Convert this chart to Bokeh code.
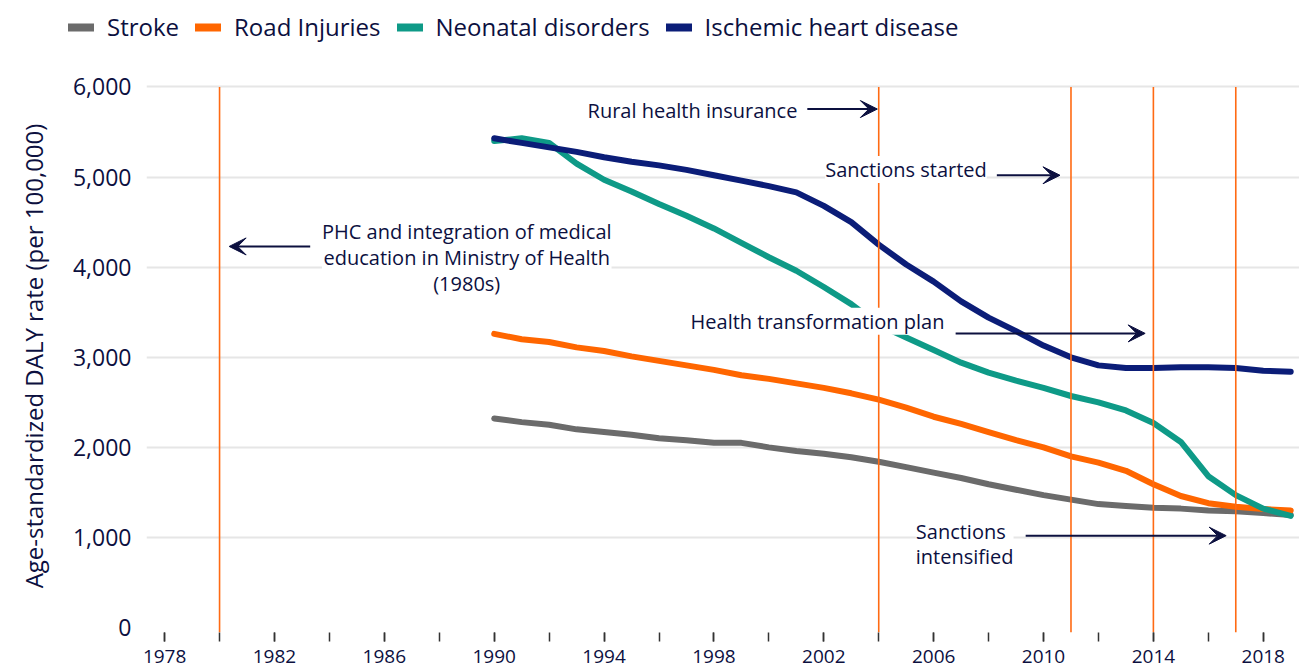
from bokeh.plotting import figure
from bokeh.layouts import column
from bokeh.models import (Range1d, FixedTicker, NumeralTickFormatter, Legend,
                          LegendItem, Label, Arrow, VeeHead)
from bokeh.embed import file_html
from bokeh.resources import INLINE

# ---------------- data ----------------
years = list(range(1990, 2020))
stroke = [2320, 2280, 2250, 2200, 2170, 2140, 2100, 2080, 2050, 2050,
          2000, 1960, 1930, 1890, 1840, 1780, 1720, 1660, 1590, 1530,
          1470, 1420, 1370, 1350, 1330, 1320, 1300, 1290, 1270, 1250]
road = [3260, 3200, 3170, 3110, 3070, 3010, 2960, 2910, 2860, 2800,
        2760, 2710, 2660, 2600, 2530, 2440, 2340, 2260, 2170, 2080,
        2000, 1900, 1830, 1740, 1590, 1460, 1380, 1340, 1315, 1300]
neonatal = [5400, 5430, 5380, 5150, 4970, 4840, 4700, 4570, 4430, 4270,
            4110, 3960, 3780, 3590, 3360, 3220, 3080, 2940, 2830, 2740,
            2660, 2570, 2500, 2410, 2270, 2060, 1680, 1470, 1320, 1240]
ischemic = [5430, 5380, 5330, 5280, 5220, 5170, 5130, 5080, 5020, 4960,
            4900, 4830, 4680, 4500, 4250, 4030, 3840, 3620, 3440, 3290,
            3130, 3000, 2910, 2880, 2880, 2890, 2890, 2880, 2850, 2840]
series_names = ["Stroke", "Road Injuries", "Neonatal disorders", "Ischemic heart disease"]
event_years = [1980, 2004, 2011, 2014, 2017]
x_tick_labels = list(range(1978, 2019, 4))
x_minor_ticks = list(range(1978, 2020, 2))
y_ticks = [0, 1000, 2000, 3000, 4000, 5000, 6000]
y_axis_title = "Age-standardized DALY rate (per 100,000)"

# ---------------- style ----------------
FONT = "Open Sans"
TEXT = "#0c103f"
COLORS = ["#6b6b6b", "#ff6600", "#0e9a87", "#0b1d78"]
EVENT_COLOR = "#ff6a13"
all_series = [stroke, road, neonatal, ischemic]

# ---------------- legend strip ----------------
# the series are drawn here too, but far outside this strip's view,
# so only their legend entries are visible
leg = figure(width=1299, height=60, output_backend="svg", toolbar_location=None,
             x_range=Range1d(0, 1), y_range=Range1d(0, 1),
             min_border_left=0, min_border_right=0, min_border_top=0,
             min_border_bottom=0)
leg.frame_align = False
leg.axis.visible = False
leg.grid.visible = False
leg.outline_line_color = None
leg_renderers = [leg.line(years, vals, line_width=8, line_color=c, line_cap="round")
                 for vals, c in zip(all_series, COLORS)]
legend = Legend(items=[LegendItem(label=n, renderers=[r]) for n, r in zip(series_names, leg_renderers)],
                orientation="horizontal", location=(68, 17),
                label_text_font=FONT, label_text_font_size="24px",
                label_text_color=TEXT, glyph_width=26, glyph_height=24,
                label_height=24, label_standoff=13, spacing=16, padding=0, margin=0,
                border_line_color=None, background_fill_alpha=0)
leg.add_layout(legend)

# ---------------- main chart ----------------
p = figure(width=1299, height=612, output_backend="svg", toolbar_location=None,
           x_range=Range1d(1977.34, 2019.32), y_range=Range1d(-55, 6083),
           min_border_left=146, min_border_right=0, min_border_top=19,
           min_border_bottom=40)
p.frame_align = False
p.outline_line_color = None
p.background_fill_color = "white"
p.border_fill_color = "white"

p.xgrid.visible = False
p.ygrid.ticker = FixedTicker(ticks=y_ticks[1:])
p.ygrid.grid_line_color = "#e6e6e6"
p.ygrid.grid_line_width = 2

for vals, c in zip(all_series, COLORS):
    p.line(years, vals, line_width=6, line_color=c,
           line_cap="round", line_join="round")

p.segment(x0=event_years, y0=[p.y_range.start] * len(event_years),
          x1=event_years, y1=[max(y_ticks)] * len(event_years),
          line_color=EVENT_COLOR, line_width=1.6)

# axes
p.xaxis.ticker = FixedTicker(ticks=x_tick_labels, minor_ticks=x_minor_ticks)
p.xaxis.axis_line_color = None
p.xaxis.major_tick_in = 0
p.xaxis.major_tick_out = 9
p.xaxis.minor_tick_in = 0
p.xaxis.minor_tick_out = 9
p.xaxis.major_tick_line_color = "#333333"
p.xaxis.minor_tick_line_color = "#333333"
p.xaxis.major_tick_line_width = 1.5
p.xaxis.minor_tick_line_width = 1.5
p.xaxis.major_label_text_font = FONT
p.xaxis.major_label_text_font_size = "19px"
p.xaxis.major_label_text_color = TEXT
p.xaxis.major_label_standoff = 8

p.yaxis.ticker = FixedTicker(ticks=y_ticks)
p.yaxis.formatter = NumeralTickFormatter(format="0,0")
p.yaxis.axis_line_color = None
p.yaxis.major_tick_line_color = None
p.yaxis.minor_tick_line_color = None
p.yaxis.major_tick_out = 0
p.yaxis.major_tick_in = 0
p.yaxis.major_label_standoff = 15
p.yaxis.major_label_text_font = FONT
p.yaxis.major_label_text_font_size = "23px"
p.yaxis.major_label_text_color = TEXT
p.yaxis.axis_label = y_axis_title
p.yaxis.axis_label_text_font = FONT
p.yaxis.axis_label_text_font_size = "24px"
p.yaxis.axis_label_text_font_style = "normal"
p.yaxis.axis_label_text_color = TEXT
p.yaxis.axis_label_standoff = 20

# annotations
def add_label(x, y, text, align):
    p.add_layout(Label(x=x, y=y, text=text, text_align=align, text_baseline="middle",
                       text_font=FONT, text_font_size="20px", text_color=TEXT,
                       text_line_height=0.95,
                       background_fill_color="white", background_fill_alpha=1.0))

def add_arrow(x0, x1, y):
    p.add_layout(Arrow(x_start=x0, y_start=y, x_end=x1, y_end=y,
                       line_color=TEXT, line_width=2,
                       end=VeeHead(size=17, fill_color=TEXT, line_color=TEXT)))

add_label(2001.04, 5735, "Rural health insurance", "right")
add_arrow(2001.4, 2003.95, 5755)

add_label(2002.05, 5085, "Sanctions started", "left")
add_arrow(2008.3, 2010.6, 5020)

add_label(1989.0, 4107, "PHC and integration of medical\neducation in Ministry of Health\n(1980s)", "center")
add_arrow(1983.3, 1980.35, 4230)

add_label(1997.15, 3400, "Health transformation plan", "left")
add_arrow(2006.8, 2013.7, 3265)

add_label(2005.35, 927, "Sanctions\nintensified", "left")
add_arrow(2009.35, 2016.65, 1020)

layout = column(leg, p, spacing=0)
open("out.html", "w").write(file_html(layout, INLINE))
